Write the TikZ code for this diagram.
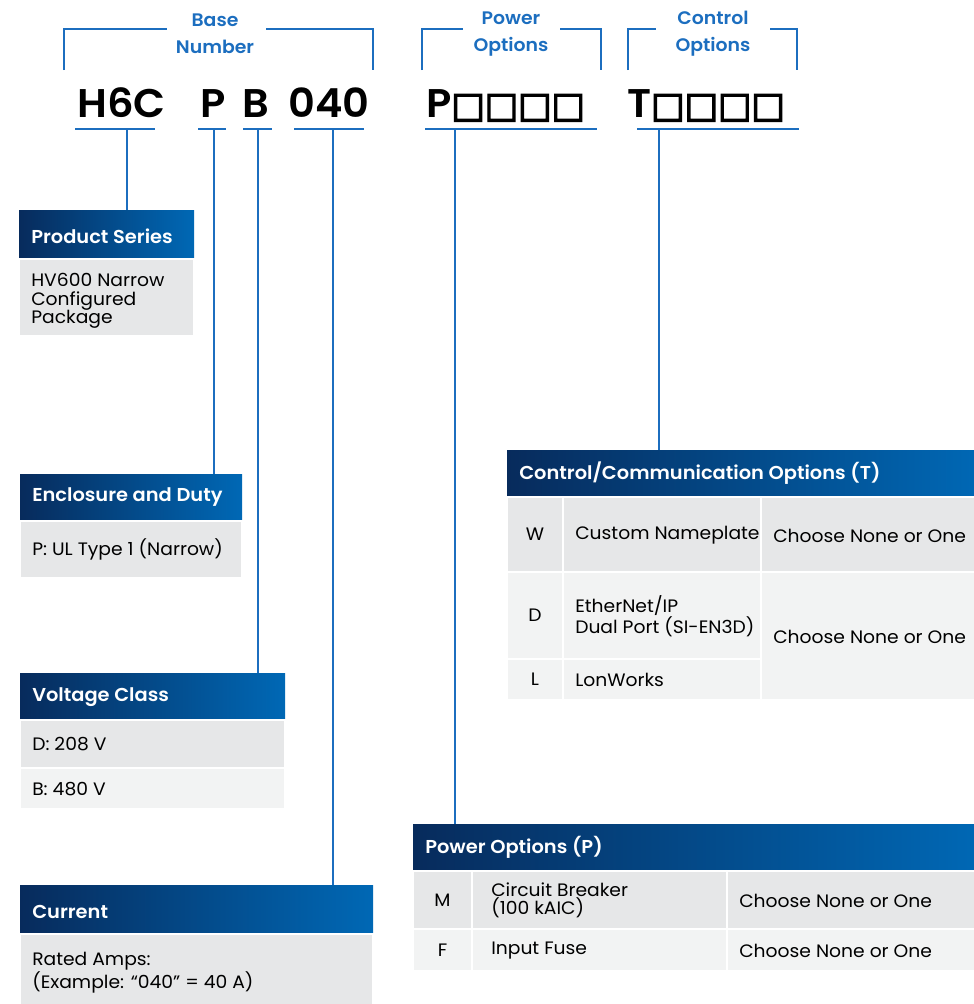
\documentclass[tikz,border=0pt]{standalone}
\usepackage{fontspec}
\setmainfont{Poppins}[BoldFont={Poppins SemiBold}, FakeStretch=1.04]
\newfontfamily\boxfont{DejaVu Sans}[FakeBold=4]
\usetikzlibrary{fit,positioning}

\definecolor{brand}{HTML}{1C6EBF}
\definecolor{navy}{HTML}{072B5C}
\definecolor{azure}{HTML}{0068B5}
\definecolor{cellA}{HTML}{E6E7E8}
\definecolor{cellB}{HTML}{F2F3F3}

\tikzset{
  hdr/.style={inner sep=0pt, left color=navy, right color=azure},
  hdrtxt/.style={anchor=west, inner sep=0pt, text=white, font=\bfseries\fontsize{14}{16}\selectfont},
  cella/.style={inner sep=0pt, fill=cellA, draw=white, line width=1.2pt},
  cellb/.style={inner sep=0pt, fill=cellB, draw=white, line width=1.2pt},
  txt/.style={anchor=west, inner sep=0pt, align=left, font=\fontsize{13.5}{13.8}\selectfont},
  ctxt/.style={inner sep=0pt, font=\fontsize{13.5}{13.8}\selectfont},
  toplbl/.style={inner sep=0pt, align=center, text=brand, font=\bfseries\fontsize{13.6}{20}\selectfont},
  code/.style={anchor=base, inner sep=0pt, font=\bfseries\fontsize{30}{30}\selectfont},
  rule/.style={draw=brand, line width=1.6pt},
  lead/.style={draw=brand, line width=2pt}
}

\newcommand{\boxes}{{\boxfont\fontsize{26.5}{26.5}\selectfont □□□□}}

\begin{document}
\begin{tikzpicture}[x=0.75pt,y=-0.75pt]
\useasboundingbox (0,0) rectangle (974,1004);

% brackets over the code
\node[toplbl] (base) at (215,34) {Base\\Number};
\node[toplbl] (pwr) at (511,34) {Power\\Options};
\node[toplbl] (ctl) at (713,34) {Control\\Options};
\draw[rule] (64,70) |- (167,29);
\draw[rule] (266,29) -| (373,70);
\draw[rule] (422,70) |- (463,29);
\draw[rule] (560,29) -| (601,70);
\draw[rule] (628,70) |- (656,29);
\draw[rule] (770,29) -| (797,70);

% the code itself
\node[code] (h6c) at (121.5,117) {H6C};
\node[code] (encl) at (213,117) {P};
\node[code] (volt) at (256,117) {B};
\node[code] (amps) at (329,117) {040};
\node[code] (popt) at (505.5,117) {P\boxes};
\node[code] (topt) at (706,117) {T\boxes};
\draw[rule] (75,129) -- (155,129);
\draw[rule] (198,129) -- (226,129);
\draw[rule] (243,129) -- (272,129);
\draw[rule] (294,129) -- (364,129);
\draw[rule] (425,129) -- (597,129);
\draw[rule] (637,129) -- (799,129);
\coordinate (uH) at (127,129);
\coordinate (uP) at (214,129);
\coordinate (uB) at (258,129);
\coordinate (uA) at (333,129);
\coordinate (uPo) at (455,129);
\coordinate (uTo) at (659,129);

% product series
\node[hdr, fit={(19,210) (194,259)}] (ps) {};
\node[hdrtxt] (psT) at (31,236) {Product Series};
\node[cella, fit={(19,259) (194,336)}] (psB) {};
\node[txt] (psX) at (31,301) {HV600 Narrow\\Configured\\Package};

% enclosure and duty
\node[hdr, fit={(20,474) (242,521)}] (ed) {};
\node[hdrtxt] (edT) at (32,497.5) {Enclosure and Duty};
\node[cella, fit={(20,521) (242,578)}] (edB) {};
\node[txt] (edX) at (32,549.5) {P: UL Type 1 (Narrow)};

% voltage class
\node[hdr, fit={(20,673) (285,720)}] (vc) {};
\node[hdrtxt] (vcT) at (32,697) {Voltage Class};
\node[cella, fit={(20,720) (285,768)}] (vcD) {};
\node[cellb, fit={(20,768) (285,809)}] (vcB) {};
\node[txt] (vcDX) at (32,744.5) {D: 208 V};
\node[txt] (vcBX) at (32,789) {B: 480 V};

% current
\node[hdr, fit={(20,885) (373,934)}] (cu) {};
\node[hdrtxt] (cuT) at (32,912) {Current};
\node[cella, fit={(20,934) (373,1010)}] (cuB) {};
\node[txt] (cuX) at (32,973) {Rated Amps:\\(Example: “040” = 40 A)};

% control/communication options
\node[hdr, fit={(507,450) (980,497)}] (cc) {};
\node[hdrtxt] (ccT) at (519,473.5) {Control/Communication Options (T)};
\node[cella, fit={(507,497) (563,572)}] (ccW1) {};
\node[cella, fit={(563,497) (761,572)}] (ccW2) {};
\node[cella, fit={(761,497) (980,572)}] (ccW3) {};
\node[cellb, fit={(507,572) (563,659)}] (ccD1) {};
\node[cellb, fit={(563,572) (761,659)}] (ccD2) {};
\node[cellb, fit={(507,659) (563,700)}] (ccL1) {};
\node[cellb, fit={(563,659) (761,700)}] (ccL2) {};
\node[cellb, fit={(761,572) (980,700)}] (ccDL) {};
\node[ctxt] at (ccW1) {W};
\node[ctxt] at (ccD1) {D};
\node[ctxt] at (ccL1) {L};
\node[txt] (ccWX) at (575,535.5) {Custom Nameplate};
\node[txt] (ccDX) at (575,616) {EtherNet/IP\\Dual Port (SI-EN3D)};
\node[txt] (ccLX) at (575,680) {LonWorks};
\node[txt] (ccWC) at (773,535.5) {Choose None or One};
\node[txt] (ccDC) at (773,637) {Choose None or One};

% power options
\node[hdr, fit={(413,824) (980,871)}] (po) {};
\node[hdrtxt] (poT) at (425,847.5) {Power Options (P)};
\node[cella, fit={(413,871) (472,929)}] (poM1) {};
\node[cella, fit={(472,871) (727,929)}] (poM2) {};
\node[cella, fit={(727,871) (980,929)}] (poM3) {};
\node[cellb, fit={(413,929) (472,971)}] (poF1) {};
\node[cellb, fit={(472,929) (727,971)}] (poF2) {};
\node[cellb, fit={(727,929) (980,971)}] (poF3) {};
\node[ctxt] at (poM1) {M};
\node[ctxt] at (poF1) {F};
\node[txt] (poMX) at (491,900.5) {Circuit Breaker\\(100 kAIC)};
\node[txt] (poFX) at (491,951) {Input Fuse};
\node[txt] (poMC) at (739,901) {Choose None or One};
\node[txt] (poFC) at (739,951) {Choose None or One};

% leaders
\draw[lead] (uH) -- (uH |- ps.north);
\draw[lead] (uP) -- (uP |- ed.north);
\draw[lead] (uB) -- (uB |- vc.north);
\draw[lead] (uA) -- (uA |- cu.north);
\draw[lead] (uPo) -- (uPo |- po.north);
\draw[lead] (uTo) -- (uTo |- cc.north);
\end{tikzpicture}
\end{document}
